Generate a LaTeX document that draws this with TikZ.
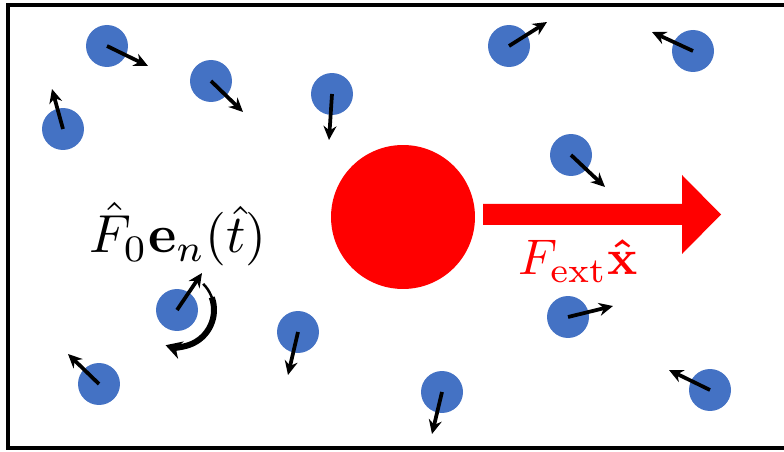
\documentclass[tikz,border=0pt]{standalone}
\usepackage{graphicx}
\usepackage{amsmath}
\usepackage{bm}
\usetikzlibrary{arrows.meta}
\definecolor{pblue}{HTML}{4472C4}
\definecolor{fred}{HTML}{FF0000}
\tikzset{
  particle/.style={circle, fill=pblue, inner sep=0pt, minimum size=0.84cm},
  vel/.style={line width=0.075cm, -{Stealth[length=0.28cm,width=0.26cm]}},
  border/.style={line width=0.075cm, black},
}
\begin{document}
\begin{tikzpicture}[x=0.02cm,y=-0.02cm]
\useasboundingbox (0,0) rectangle (784,452);
\draw[border] (784,5) -- (8,5) -- (8,448) -- (784,448);
% particles
\node[particle] (p1) at (107,46) {};
\node[particle] (p2) at (63,129) {};
\node[particle] (p3) at (211,81) {};
\node[particle] (p4) at (332,94) {};
\node[particle] (p5) at (509,46) {};
\node[particle] (p6) at (693,51) {};
\node[particle] (p7) at (571,155) {};
\node[particle] (p8) at (177,310) {};
\node[particle] (p9) at (298,332) {};
\node[particle] (p10) at (99,384) {};
\node[particle] (p11) at (568,317) {};
\node[particle] (p12) at (442,392) {};
\node[particle] (p13) at (710,390) {};
\coordinate (t1) at (148,66);
\coordinate (t2) at (52,89);
\coordinate (t3) at (243,112);
\coordinate (t4) at (329,140);
\coordinate (t5) at (547,22);
\coordinate (t6) at (652,32);
\coordinate (t7) at (605,187);
\coordinate (t8) at (202,273);
\coordinate (t9) at (288,375);
\coordinate (t10) at (68,354);
\coordinate (t11) at (613,306);
\coordinate (t12) at (432,434);
\coordinate (t13) at (669,370);
\foreach \i in {1,...,13} {\draw[vel] (p\i.center) -- (t\i);}
% rotation arrow
\draw[line width=0.05cm] (p8.center) ++(-45:37) arc[start angle=-45, end angle=0, radius=37];
\draw[line width=0.12cm, -{Stealth[length=0.32cm,width=0.36cm]}] (p8.center) ++(-20:37) arc[start angle=-20, end angle=108, radius=37];
% big particle and force
\node[circle, fill=fred, inner sep=0pt, minimum size=2.88cm] (big) at (403,217) {};
\fill[fred] (483,204) -- (682,204) -- (682,175) -- (721,214.5) -- (682,254) -- (682,225) -- (483,225) -- cycle;
\node[anchor=base, inner sep=0pt] (lab1) at (178,253) {\scalebox{3.05}{$\hat{F}_0\mathbf{e}_n(\hat{t})$}};
\node[anchor=base, inner sep=0pt, text=fred] (lab2) at (578,275) {\scalebox{2.85}{$F_{\mathrm{ext}}\bm{\hat{\mathbf{x}}}$}};
\end{tikzpicture}
\end{document}
